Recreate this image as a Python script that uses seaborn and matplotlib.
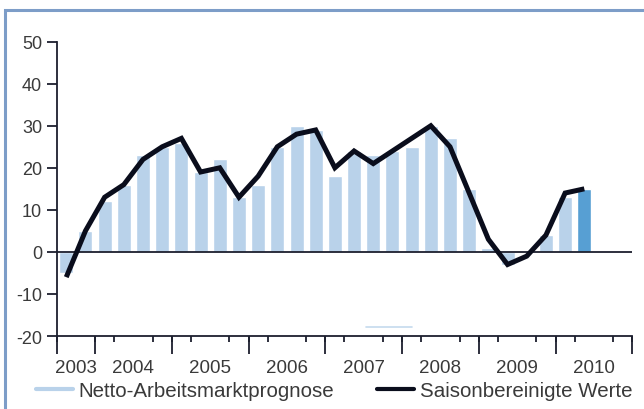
import matplotlib
matplotlib.use("Agg")
import matplotlib.pyplot as plt
from matplotlib.lines import Line2D
from matplotlib.patches import Rectangle
import seaborn as sns
import pandas as pd
import numpy as np

# Quarterly survey values, Q3 2003 .. Q2 2010
quarters = ["2003 Q3", "2003 Q4",
            "2004 Q1", "2004 Q2", "2004 Q3", "2004 Q4",
            "2005 Q1", "2005 Q2", "2005 Q3", "2005 Q4",
            "2006 Q1", "2006 Q2", "2006 Q3", "2006 Q4",
            "2007 Q1", "2007 Q2", "2007 Q3", "2007 Q4",
            "2008 Q1", "2008 Q2", "2008 Q3", "2008 Q4",
            "2009 Q1", "2009 Q2", "2009 Q3", "2009 Q4",
            "2010 Q1", "2010 Q2"]
netto = [-5, 5, 12, 16, 23, 25, 26, 19, 22, 13, 16, 25, 30, 29,
         18, 24, 23, 24, 25, 30, 27, 15, 1, -3, 0, 4, 13, 15]
saison = [-6, 5, 13, 16, 22, 25, 27, 19, 20, 13, 18, 25, 28, 29,
          20, 24, 21, 24, 27, 30, 25, 14, 3, -3, -1, 4, 14, 15]
kind = ["Ist"] * 27 + ["Prognose"]

# Axis layout: years and how many quarter slots each spans on the axis
years = ["2003", "2004", "2005", "2006", "2007", "2008", "2009", "2010"]
year_slots = [2, 4, 4, 4, 4, 4, 4, 4]
yticks = [-20, -10, 0, 10, 20, 30, 40, 50]

df = pd.DataFrame({"pos": np.arange(len(quarters)), "quarter": quarters,
                   "netto": netto, "saison": saison, "kind": kind})

bar_light = "#b9d2ea"
bar_dark = "#579fd3"
line_col = "#0a0d1c"
axis_col = "#1c1f2e"
text_col = "#3a3a3a"

sns.set_theme(style="white")
plt.rcParams["font.family"] = ["Liberation Sans", "DejaVu Sans"]

fig = plt.figure(figsize=(6.44, 4.10), dpi=100)
ax = fig.add_axes([0.0880, 0.178, 0.8938, 0.718])

sns.barplot(data=df, x="pos", y="netto", hue="kind",
            palette={"Ist": bar_light, "Prognose": bar_dark},
            dodge=False, width=0.73, saturation=1, legend=False, ax=ax)
sns.lineplot(data=df, x="pos", y="saison", color=line_col, linewidth=3.6,
             ax=ax, solid_joinstyle="miter", solid_capstyle="butt", zorder=5)

ax.axhline(0, color=axis_col, linewidth=1.3, zorder=4)

total_slots = sum(year_slots)
ax.set_xlim(-0.5, total_slots - 0.5)
ax.set_ylim(-20, 50)
ax.set_xlabel("")
ax.set_ylabel("")

for side in ("top", "right"):
    ax.spines[side].set_visible(False)
for side in ("left", "bottom"):
    ax.spines[side].set_color(axis_col)
    ax.spines[side].set_linewidth(1.3)

ax.set_yticks(yticks)
ax.set_yticklabels([str(v) for v in yticks])
ax.tick_params(axis="y", direction="out", length=7.5, width=1.3,
               color=axis_col, pad=3, labelsize=13, labelcolor=text_col, left=True)

# year labels centred under their spans, quarter ticks short, year ticks long
edges = np.concatenate([[0], np.cumsum(year_slots)]) - 0.5
centers = (edges[:-1] + edges[1:]) / 2
ax.set_xticks(centers)
ax.set_xticklabels(years)
ax.set_xticks(np.arange(total_slots + 1) - 0.5, minor=True)
ax.tick_params(axis="x", which="major", length=0, pad=16.5, labelsize=13.5,
               labelcolor=text_col)
ax.tick_params(axis="x", which="minor", direction="out", length=4.5,
               width=1.3, color=axis_col, bottom=True)

sec = ax.secondary_xaxis("bottom")
sec.set_xticks(edges)
sec.set_xticklabels([""] * len(edges))
sec.tick_params(axis="x", direction="out", length=13, width=1.3, color=axis_col)
sec.spines["bottom"].set_visible(False)

handles = [Line2D([0], [0], color=bar_light, linewidth=3),
           Line2D([0], [0], color=line_col, linewidth=3)]
fig.legend(handles, ["Netto-Arbeitsmarktprognose", "Saisonbereinigte Werte"],
           loc="center", bbox_to_anchor=(0.519, 0.044), ncol=2, frameon=False,
           fontsize=14.8, handlelength=1.8, handletextpad=0.25,
           columnspacing=2.1, labelcolor=text_col, borderpad=0)

# small stray legend swatch above the axis line
fig.add_artist(Line2D([366 / 644, 412 / 644], [1 - 328 / 410, 1 - 328 / 410],
                      color="#c5daee", linewidth=1.2))

# frame around the chart panel (open to the right and bottom)
fig.add_artist(Rectangle((4.5 / 644, -0.2), 1.2, 1.2 - 10.5 / 410,
                         transform=fig.transFigure, fill=False,
                         edgecolor="#7d9dc8", linewidth=2.2))

fig.savefig("out.png", dpi=100)
